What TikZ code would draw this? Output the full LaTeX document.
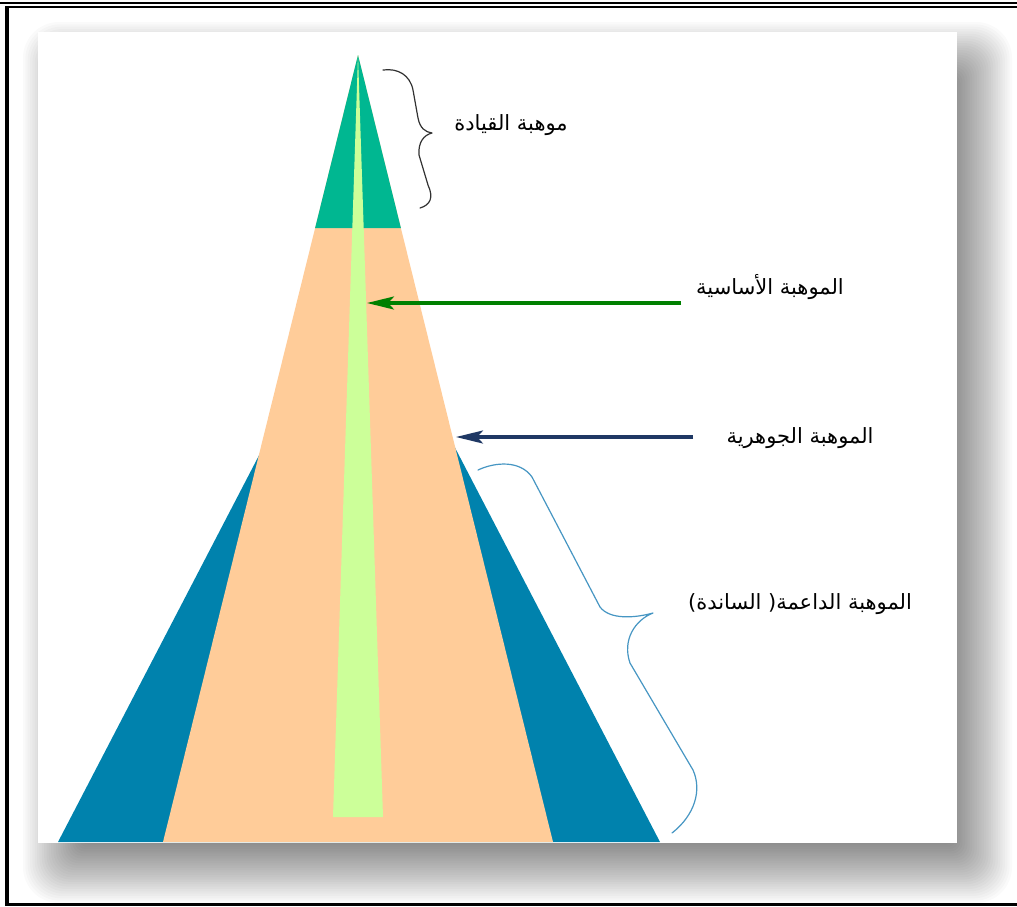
\documentclass[tikz,border=0pt]{standalone}
\usepackage{fontspec}
\newfontfamily\arabicfont[Script=Arabic]{DejaVu Sans}
\TeXXeTstate=1
\usetikzlibrary{arrows.meta}
\definecolor{topgreen}{RGB}{0,183,145}
\definecolor{peach}{RGB}{255,204,153}
\definecolor{lightgreen}{RGB}{204,255,153}
\definecolor{basinblue}{RGB}{0,130,173}
\definecolor{arrowgreen}{RGB}{0,128,0}
\definecolor{arrownavy}{RGB}{31,56,100}
\definecolor{bracecol}{RGB}{70,150,195}
\definecolor{darkbrace}{RGB}{50,50,50}
\tikzset{
  lbl/.style={font=\arabicfont\fontsize{21}{24}\selectfont, inner sep=0pt, text=black},
  conn/.style={line width=3.2pt, -{Stealth[length=27pt,width=13pt,inset=6pt]}},
  bracepath/.style={line width=1.2pt, line cap=round, line join=round}
}
\begin{document}
\begin{tikzpicture}[x=1pt,y=-1pt]
\useasboundingbox (0,0) rectangle (1017,906);
\fill[white] (0,0) rectangle (1017,906);
% soft drop shadow
\foreach \k in {0,...,29}{
  \pgfmathsetmacro{\rr}{36-1.2*\k}
  \pgfmathsetmacro{\dd}{2.35*\k}
  \fill[black,opacity=0.02,rounded corners=\rr pt] ({23+\dd},{22+\dd}) rectangle ({1012-\dd},{903-\dd});
}
% panel
\fill[white] (38,32) rectangle (957,843);
% frame
\draw[line width=2.6pt] (0,3) -- (1017,3);
\draw[line width=2pt] (5,6.5) -- (1017,6.5);
\draw[line width=3.5pt] (7,6) -- (7,906);
\draw[line width=3pt] (5,904.5) -- (1017,904.5);
% pyramid
\fill[basinblue] (359,263) -- (660,842) -- (58,842) -- cycle;
\fill[peach] (358,55) -- (553,842) -- (163,842) -- cycle;
\fill[topgreen] (358,55) -- (400.9,228) -- (315.1,228) -- cycle;
\fill[lightgreen] (358,55) -- (383,817) -- (333,817) -- cycle;
% labels
\node[lbl] (lead) at (511,125) {\beginR موهبة القيادة\endR};
\node[lbl] (basic) at (770,287) {\beginR الموهبة الأساسية\endR};
\node[lbl] (core) at (800,438) {\beginR الموهبة الجوهرية\endR};
\node[lbl] (support) at (800,604) {\beginR الموهبة الداعمة( الساندة)\endR};
% arrows
\coordinate (gtail) at (681,303);
\coordinate (gtip) at (367,303);
\coordinate (ntail) at (693,437);
\coordinate (ntip) at (456,437);
\draw[conn, arrowgreen] (gtail) -- (gtip);
\draw[conn, arrownavy] (ntail) -- (ntip);
% braces
\draw[bracepath, darkbrace] (383,70) .. controls (398,68) and (410,75) .. (413,90) -- (418,118) .. controls (420,128) and (425,132) .. (432,133) .. controls (424,135) and (418,142) .. (419,155) -- (428,185) .. controls (434,198) and (430,205) .. (420,208);
\draw[bracepath, bracecol] (478,470) .. controls (495,462) and (520,460) .. (532,477) -- (600,607) .. controls (610,620) and (635,618) .. (653,613) .. controls (635,620) and (622,640) .. (630,663) -- (693,770) .. controls (702,790) and (695,815) .. (672,833);
\end{tikzpicture}
\end{document}
